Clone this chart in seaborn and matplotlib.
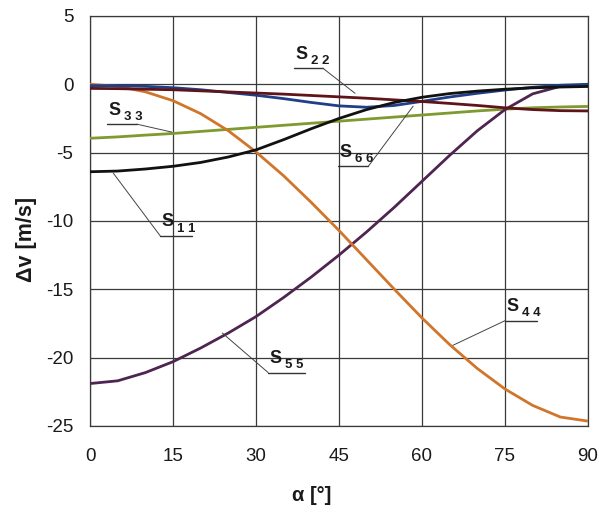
import matplotlib
matplotlib.use("Agg")
import matplotlib.pyplot as plt
import seaborn as sns
import pandas as pd

# Angle of attack samples (degrees)
alpha = [0, 5, 10, 15, 20, 25, 30, 35, 40, 45, 50, 55, 60, 65, 70, 75, 80, 85, 90]

# Velocity change per coefficient, m/s
s11 = [-6.4, -6.35, -6.2, -6.0, -5.72, -5.32, -4.8, -4.05, -3.25, -2.5, -1.85, -1.33,
       -0.95, -0.68, -0.5, -0.36, -0.26, -0.2, -0.16]
s22 = [-0.3, -0.32, -0.36, -0.4, -0.48, -0.56, -0.64, -0.72, -0.82, -0.92, -1.02,
       -1.14, -1.26, -1.4, -1.55, -1.72, -1.85, -1.93, -1.95]
s33 = [-3.95, -3.85, -3.72, -3.6, -3.45, -3.3, -3.15, -3.0, -2.85, -2.7, -2.55,
       -2.4, -2.25, -2.1, -1.95, -1.82, -1.72, -1.66, -1.62]
s44 = [0.0, -0.15, -0.55, -1.2, -2.15, -3.4, -4.95, -6.7, -8.65, -10.7, -12.85,
       -15.0, -17.1, -19.05, -20.8, -22.3, -23.5, -24.35, -24.65]
s55 = [-21.9, -21.7, -21.1, -20.3, -19.3, -18.2, -17.0, -15.6, -14.1, -12.5, -10.8,
       -9.0, -7.1, -5.2, -3.4, -1.85, -0.7, -0.15, -0.05]
s66 = [-0.1, -0.1, -0.15, -0.25, -0.4, -0.6, -0.8, -1.05, -1.33, -1.58, -1.68,
       -1.55, -1.25, -0.93, -0.66, -0.42, -0.22, -0.07, 0.0]

series_names = ["S33", "S55", "S44", "S66", "S22", "S11"]
series_values = [s33, s55, s44, s66, s22, s11]
series_colors = ["#7f9a2e", "#4e2450", "#d0752a", "#1f3f88", "#5e1418", "#111111"]

x_ticks = [0, 15, 30, 45, 60, 75, 90]
y_ticks = [5, 0, -5, -10, -15, -20, -25]

# Callout labels: (main letter, index digits, underline start x, underline end x,
# underline y, leader target x, leader target y, leader attaches at start?)
labels = [
    ("S", "2 2", 36.9, 42.1, 1.17, 47.9, -0.66, False),
    ("S", "3 3", 3.1, 8.5, -2.92, 14.8, -3.5, False),
    ("S", "1 1", 12.7, 18.4, -11.1, 4.2, -6.5, True),
    ("S", "6 6", 44.8, 50.3, -6.0, 58.4, -1.6, False),
    ("S", "4 4", 75.0, 80.8, -17.3, 65.6, -19.1, True),
    ("S", "5 5", 32.2, 38.9, -21.1, 23.9, -18.2, True),
]

frames = [pd.DataFrame({"alpha": alpha, "dv": v, "series": n})
          for n, v in zip(series_names, series_values)]
df = pd.concat(frames, ignore_index=True)

sns.set_style("white")
plt.rcParams["font.family"] = ["Liberation Sans", "DejaVu Sans"]
plt.rcParams["axes.unicode_minus"] = False

fig = plt.figure(figsize=(5.99, 5.15), dpi=100)
ax = fig.add_axes([0.1503, 0.173, 0.8313, 0.796])

sns.lineplot(data=df, x="alpha", y="dv", hue="series", hue_order=series_names,
             palette=dict(zip(series_names, series_colors)), linewidth=2.0,
             legend=False, ax=ax, zorder=3)

ax.set_xlim(0, 90)
ax.set_ylim(-25, 5)
ax.set_xticks(x_ticks)
ax.set_yticks(y_ticks)
ax.grid(True, color="#3a3a3a", linewidth=0.9)
ax.set_axisbelow(True)
for sp in ax.spines.values():
    sp.set_color("#3a3a3a")
    sp.set_linewidth(0.9)
ax.tick_params(axis="both", direction="out", width=0.9, color="#3a3a3a",
               labelsize=13.5, labelcolor="#1a1a1a")
ax.tick_params(axis="x", length=9, pad=7)
ax.tick_params(axis="y", length=7, pad=5)

ax.set_xlabel("α [°]", fontsize=14.5, fontweight="bold", color="#1a1a1a")
ax.set_ylabel("Δv [m/s]", fontsize=15.5, fontweight="bold", color="#1a1a1a")
ax.xaxis.set_label_coords(0.446, -0.147)
ax.yaxis.set_label_coords(-0.106, 0.454)

for main, idx, ux0, ux1, uy, tx, ty, at_start in labels:
    ax.plot([ux0, ux1], [uy, uy], color="#333333", linewidth=1.0, zorder=5)
    sx = ux0 if at_start else ux1
    ax.plot([sx, tx], [uy, ty], color="#444444", linewidth=0.7, zorder=5)
    ax.annotate(main, (ux0, uy), xytext=(1, 4), textcoords="offset points",
                fontsize=13, fontweight="bold", color="#1a1a1a",
                ha="left", va="bottom", zorder=6)
    ax.annotate(idx, (ux0, uy), xytext=(12, 1), textcoords="offset points",
                fontsize=9.5, fontweight="bold", color="#1a1a1a",
                ha="left", va="bottom", zorder=6)

fig.savefig("out.png", dpi=100, facecolor="white")
